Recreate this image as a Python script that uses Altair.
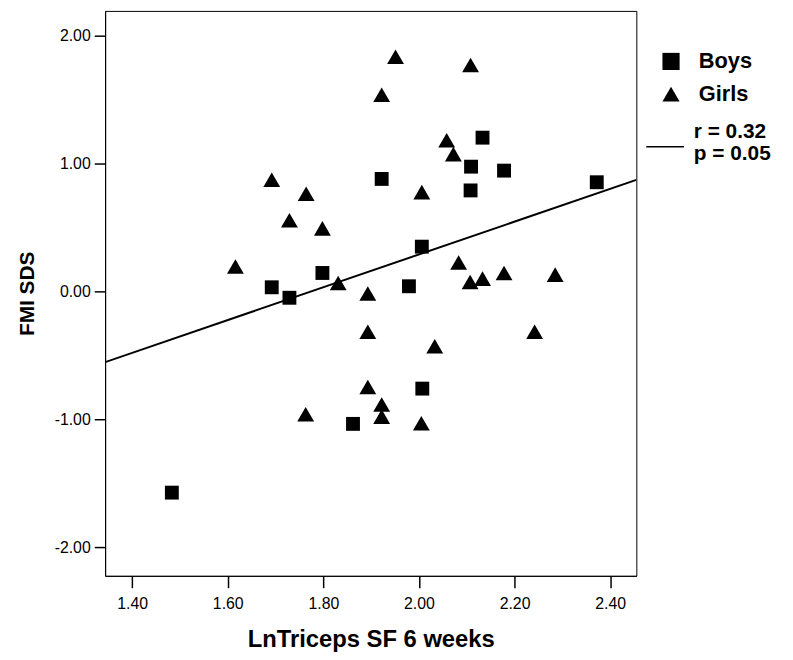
import altair as alt
import pandas as pd

# ---- data ----
boys_x = [1.483, 1.692, 1.729, 1.798, 1.922, 2.133, 2.109, 2.178, 2.108, 2.006, 1.979, 2.372, 2.007, 1.862]
boys_y = [-1.574, 0.033, -0.049, 0.145, 0.881, 1.204, 0.977, 0.946, 0.791, 0.351, 0.041, 0.855, -0.760, -1.036]

girls_x = [1.616, 1.692, 1.764, 1.729, 1.798, 1.831, 1.893, 1.893, 1.951, 2.108, 1.922, 2.058, 2.072,
           2.006, 2.083, 2.107, 2.133, 2.178, 2.285, 2.033, 2.242, 1.893, 1.922, 1.922, 1.763, 2.005]
girls_y = [0.196, 0.874, 0.765, 0.558, 0.494, 0.067, -0.016, -0.315, 1.837, 1.773, 1.540, 1.184, 1.075,
           0.778, 0.227, 0.075, 0.101, 0.145, 0.132, -0.429, -0.315, -0.747, -0.884, -0.979, -0.961, -1.031]

fit_x = [1.3434, 2.4548]
fit_y = [-0.553, 0.874]

groups = ["Boys", "Girls"]
stats_text = ["r = 0.32", "p = 0.05"]

x_ticks = [1.4, 1.6, 1.8, 2.0, 2.2, 2.4]
y_ticks = [-2, -1, 0, 1, 2]
x_domain = [1.3434, 2.4548]
y_domain = [-2.225, 2.196]

FONT = "Liberation Sans"

boys = pd.DataFrame({"x": boys_x, "y": boys_y, "group": groups[0]})
girls = pd.DataFrame({"x": girls_x, "y": girls_y, "group": groups[1]})
fit = pd.DataFrame({"x": fit_x, "y": fit_y})

xscale = alt.Scale(domain=x_domain, nice=False, zero=False)
yscale = alt.Scale(domain=y_domain, nice=False, zero=False)

label_expr = "replace(format(datum.value, '.2f'), '\u2212', '-')"

xaxis = alt.Axis(values=x_ticks, labelExpr=label_expr, title="LnTriceps SF 6 weeks", grid=False,
                 tickSize=12, tickWidth=1.5, tickColor="black", domainColor="black",
                 labelFont=FONT, labelFontSize=16, labelColor="black", labelPadding=8,
                 titleFont=FONT, titleFontSize=24, titleFontWeight="bold", titleColor="black",
                 titlePadding=16)
yaxis = alt.Axis(values=y_ticks, labelExpr=label_expr, title="FMI SDS", grid=False,
                 tickSize=11, tickWidth=1.5, tickColor="black", domainColor="black",
                 labelFont=FONT, labelFontSize=16, labelColor="black", labelPadding=4,
                 titleFont=FONT, titleFontSize=21, titleFontWeight="bold", titleColor="black",
                 titlePadding=17)

shape_enc = alt.Shape(
    "group:N", scale=alt.Scale(domain=groups, range=["square", "triangle-up"]),
    legend=alt.Legend(title=None, orient="none", legendX=560, legendY=40,
                      padding=0, symbolSize=300, symbolFillColor="black",
                      symbolStrokeColor="black", symbolStrokeWidth=0, symbolOpacity=1,
                      labelFont=FONT, labelFontSize=22, labelFontWeight="bold",
                      labelColor="black", labelOffset=17, rowPadding=11),
)

boys_layer = alt.Chart(boys).mark_point(filled=True, opacity=1, color="black", strokeWidth=0, size=196).encode(
    x=alt.X("x:Q", scale=xscale, axis=xaxis),
    y=alt.Y("y:Q", scale=yscale, axis=yaxis),
    shape=shape_enc,
)
girls_layer = alt.Chart(girls).mark_point(filled=True, opacity=1, color="black", strokeWidth=0, size=289).encode(
    x=alt.X("x:Q", scale=xscale),
    y=alt.Y("y:Q", scale=yscale),
    shape=shape_enc,
)

line = alt.Chart(fit).mark_line(color="black", strokeWidth=2, clip=True).encode(
    x=alt.X("x:Q", scale=xscale), y=alt.Y("y:Q", scale=yscale)
)

def stat_label(i, ypix):
    return alt.Chart(pd.DataFrame({"t": [stats_text[i]]})).mark_text(
        align="left", baseline="middle", font=FONT, fontSize=21, fontWeight="bold", color="black"
    ).encode(text="t:N", x=alt.value(594), y=alt.value(ypix))

stats_r = stat_label(0, 122)
stats_p = stat_label(1, 144)

stats_rule = alt.Chart(pd.DataFrame({"t": [0]})).mark_rule(color="black", strokeWidth=1.5).encode(
    x=alt.value(546), x2=alt.value(584), y=alt.value(137)
)

chart = alt.layer(boys_layer, girls_layer, line, stats_r, stats_p, stats_rule).properties(
    width=536, height=570, autosize="none",
    padding={"left": 98, "top": 0, "right": 150, "bottom": 80},
    background="white",
).configure_view(stroke="black", strokeWidth=1)

chart.save("out.html", embed_options={"renderer": "svg", "actions": False})
